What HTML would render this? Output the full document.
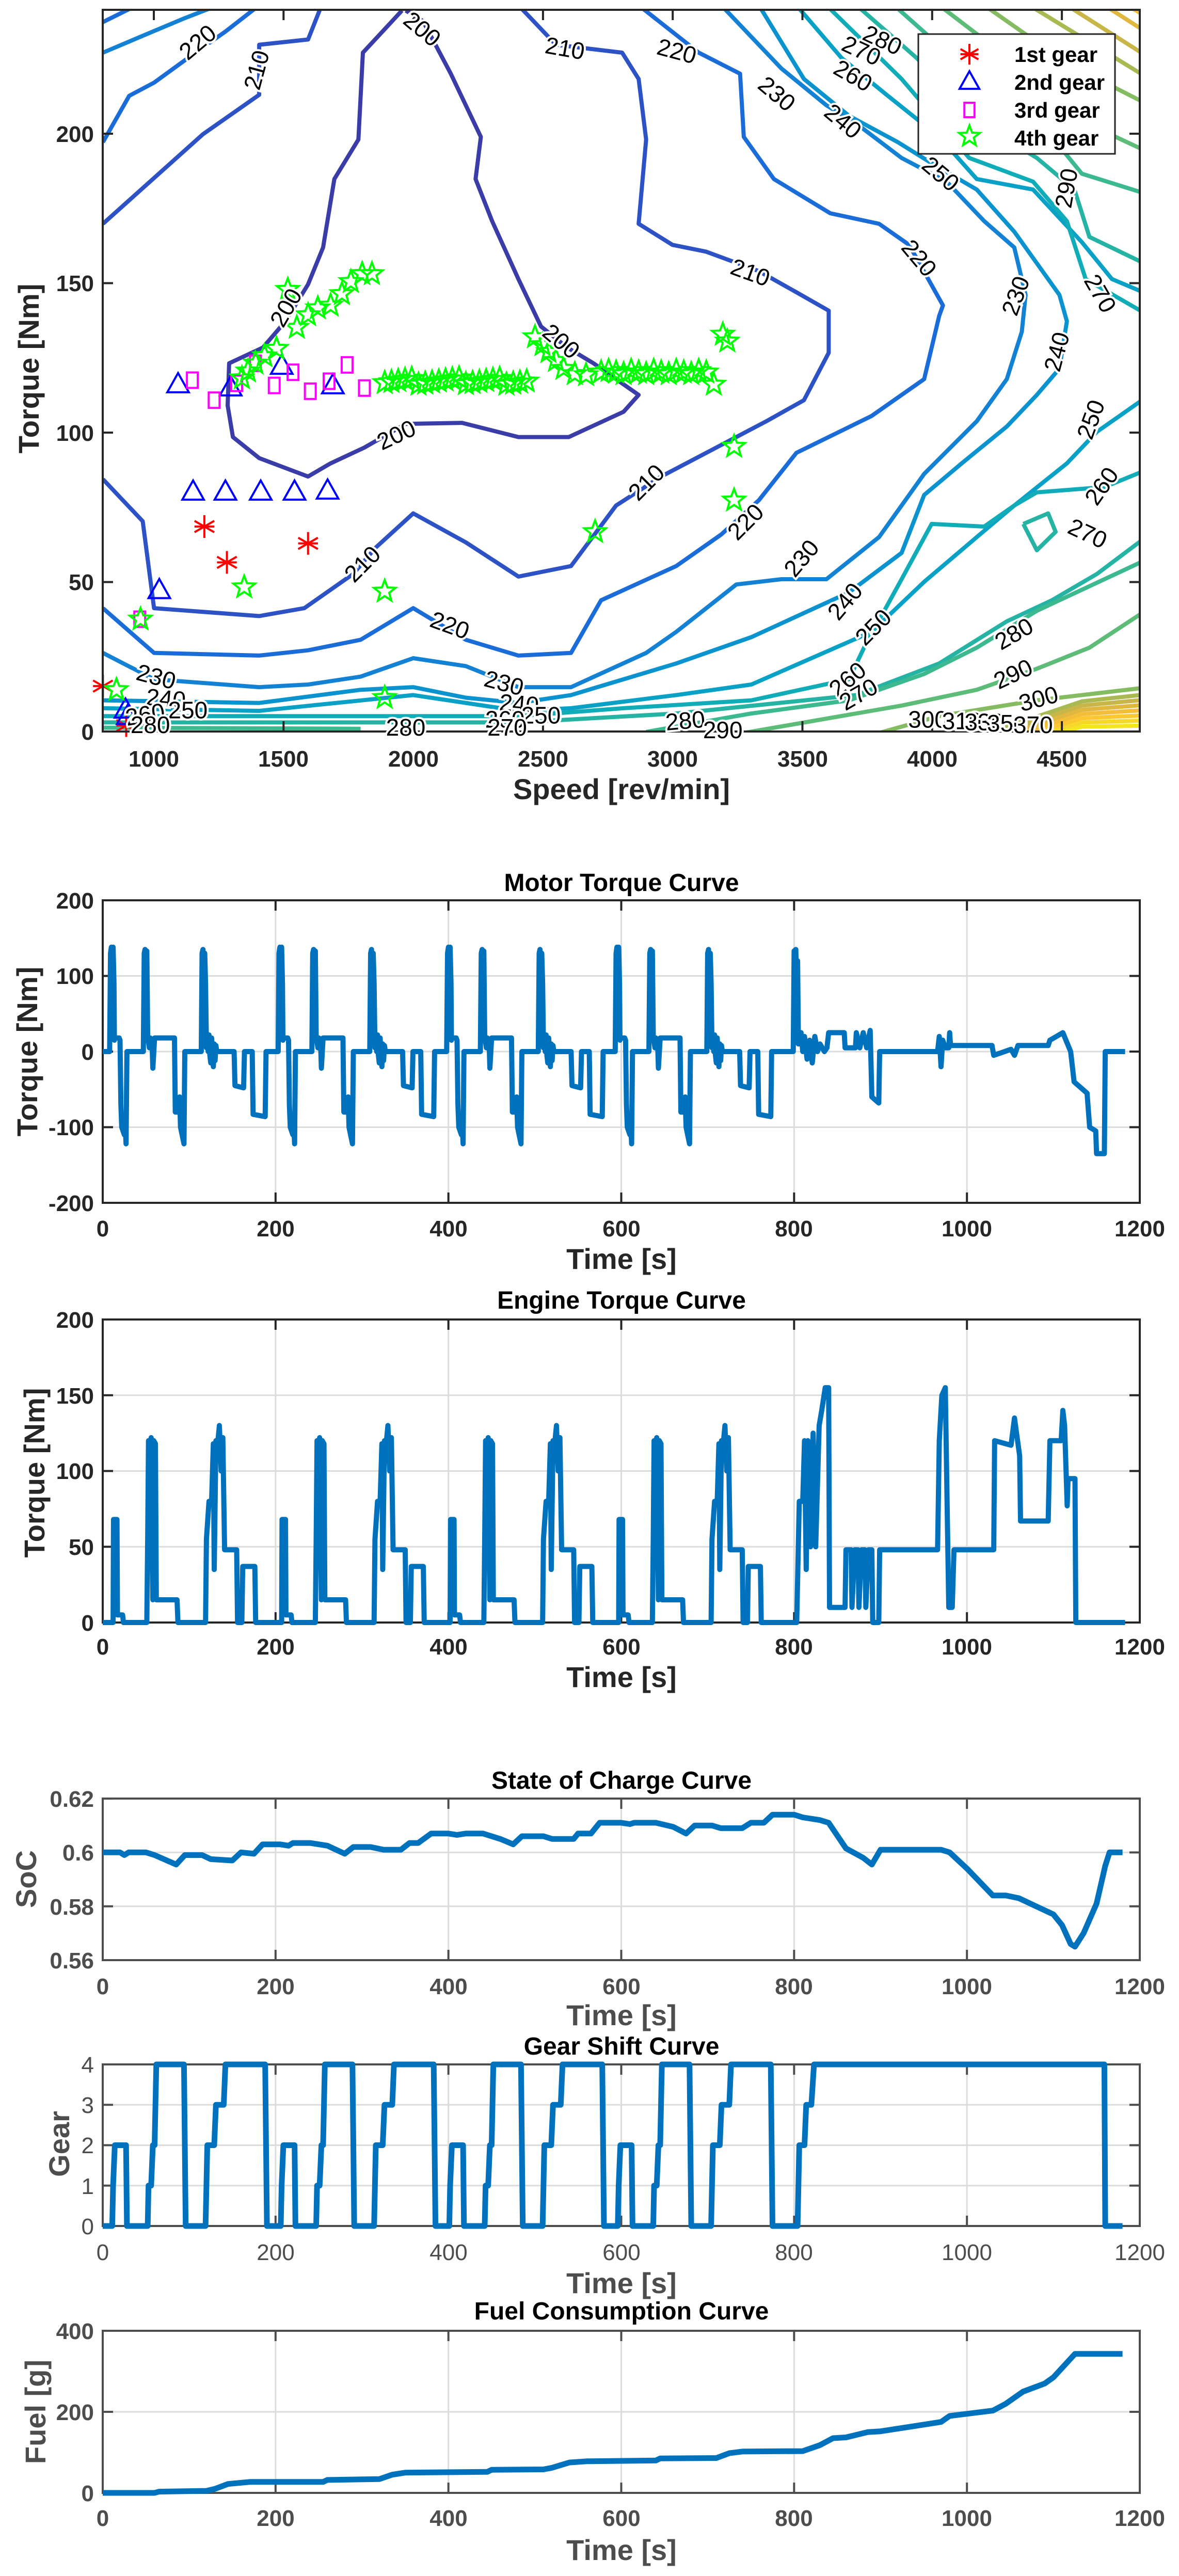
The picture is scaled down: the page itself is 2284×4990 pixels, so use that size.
<!DOCTYPE html>
<html><head><meta charset="utf-8"><style>
html,body{margin:0;padding:0;background:#fff}
svg{display:block}
text{font-family:"Liberation Sans",sans-serif}
.tk{font-size:44px;font-weight:bold;fill:#262626}
.tg{font-size:44px;fill:#4d4d4d}
.tg2{font-size:44px;font-weight:bold;fill:#4d4d4d}
.ttl{font-size:48px;font-weight:bold;fill:#000}
.lab{font-size:56px;font-weight:bold;fill:#262626}
.lab2{font-size:56px;font-weight:bold;fill:#4d4d4d}
.cl{font-size:46px;fill:#000;stroke:#fff;stroke-width:8px;paint-order:stroke}
.lg{font-size:42px;font-weight:bold;fill:#000}
</style></head><body>
<svg id="s" xmlns="http://www.w3.org/2000/svg" width="2284" height="4990" viewBox="0 0 2284 4990">
<defs><clipPath id="cp"><rect x="199" y="19" width="2009" height="1398"/></clipPath></defs>
<rect width="2284" height="4990" fill="#fff"/>
<g id="contour" clip-path="url(#cp)"></g>
<g id="marks"></g>
<g id="axes"></g>
<g id="series"></g>

<g transform="scale(1.4555,1.02)" text-anchor="middle">
<text class="cl" transform="translate(270,92) scale(0.687,0.98) rotate(-40)">220</text>
<text class="cl" transform="translate(352,137) scale(0.687,0.98) rotate(-75)">210</text>
<text class="cl" transform="translate(555,67) scale(0.687,0.98) rotate(40)">200</text>
<text class="cl" transform="translate(750,107) scale(0.687,0.98) rotate(10)">210</text>
<text class="cl" transform="translate(898,112) scale(0.687,0.98) rotate(15)">220</text>
<text class="cl" transform="translate(1170,90) scale(0.687,0.98) rotate(25)">280</text>
<text class="cl" transform="translate(1142,110) scale(0.687,0.98) rotate(25)">270</text>
<text class="cl" transform="translate(1130,157) scale(0.687,0.98) rotate(30)">260</text>
<text class="cl" transform="translate(1027,190) scale(0.687,0.98) rotate(40)">230</text>
<text class="cl" transform="translate(1115,242) scale(0.687,0.98) rotate(40)">240</text>
<text class="cl" transform="translate(1245,342) scale(0.687,0.98) rotate(40)">250</text>
<text class="cl" transform="translate(1215,500) scale(0.687,0.98) rotate(50)">220</text>
<text class="cl" transform="translate(995,532) scale(0.687,0.98) rotate(20)">210</text>
<text class="cl" transform="translate(390,592) scale(0.687,0.98) rotate(-60)">200</text>
<text class="cl" transform="translate(740,660) scale(0.687,0.98) rotate(40)">200</text>
<text class="cl" transform="translate(532,840) scale(0.687,0.98) rotate(-25)">200</text>
<text class="cl" transform="translate(1362,567) scale(0.687,0.98) rotate(-70)">230</text>
<text class="cl" transform="translate(1417,672) scale(0.687,0.98) rotate(-75)">240</text>
<text class="cl" transform="translate(1462,802) scale(0.687,0.98) rotate(-70)">250</text>
<text class="cl" transform="translate(1475,932) scale(0.687,0.98) rotate(-55)">260</text>
<text class="cl" transform="translate(1443,1027) scale(0.687,0.98) rotate(25)">270</text>
<text class="cl" transform="translate(1455,565) scale(0.687,0.98) rotate(60)">270</text>
<text class="cl" transform="translate(1430,360) scale(0.687,0.98) rotate(-80)">290</text>
<text class="cl" transform="translate(868,927) scale(0.687,0.98) rotate(-45)">210</text>
<text class="cl" transform="translate(1000,1002) scale(0.687,0.98) rotate(-45)">220</text>
<text class="cl" transform="translate(490,1082) scale(0.687,0.98) rotate(-45)">210</text>
<text class="cl" transform="translate(595,1202) scale(0.687,0.98) rotate(20)">220</text>
<text class="cl" transform="translate(1075,1070) scale(0.687,0.98) rotate(-50)">230</text>
<text class="cl" transform="translate(1133,1152) scale(0.687,0.98) rotate(-50)">240</text>
<text class="cl" transform="translate(1170,1202) scale(0.687,0.98) rotate(-45)">250</text>
<text class="cl" transform="translate(1135,1302) scale(0.687,0.98) rotate(-40)">260</text>
<text class="cl" transform="translate(1148,1332) scale(0.687,0.98) rotate(-30)">270</text>
<text class="cl" transform="translate(1355,1217) scale(0.687,0.98) rotate(-30)">280</text>
<text class="cl" transform="translate(1353,1294) scale(0.687,0.98) rotate(-25)">290</text>
<text class="cl" transform="translate(1385,1342) scale(0.687,0.98) rotate(-15)">300</text>
<text class="cl" transform="translate(205,1300) scale(0.687,0.98) rotate(15)">230</text>
<text class="cl" transform="translate(220,1342) scale(0.687,0.98) rotate(5)">240</text>
<text class="cl" transform="translate(250,1364) scale(0.687,0.98)">250</text>
<text class="cl" transform="translate(195,1372) scale(0.687,0.98) rotate(-10)">260</text>
<text class="cl" transform="translate(200,1392) scale(0.687,0.98)">280</text>
<text class="cl" transform="translate(668,1312) scale(0.687,0.98) rotate(15)">230</text>
<text class="cl" transform="translate(690,1352) scale(0.687,0.98) rotate(5)">240</text>
<text class="cl" transform="translate(720,1374) scale(0.687,0.98)">250</text>
<text class="cl" transform="translate(672,1382) scale(0.687,0.98)">260</text>
<text class="cl" transform="translate(675,1397) scale(0.687,0.98)">270</text>
<text class="cl" transform="translate(540,1397) scale(0.687,0.98)">280</text>
<text class="cl" transform="translate(913,1384) scale(0.687,0.98) rotate(-5)">280</text>
<text class="cl" transform="translate(962,1402) scale(0.687,0.98)">290</text>
<text class="cl" transform="translate(1235,1382) scale(0.687,0.98)">300</text>
<text class="cl" transform="translate(1280,1385) scale(0.687,0.98)">310</text>
<text class="cl" transform="translate(1310,1387) scale(0.687,0.98)">330</text>
<text class="cl" transform="translate(1340,1389) scale(0.687,0.98)">350</text>
<text class="cl" transform="translate(1375,1392) scale(0.687,0.98)">370</text>
</g>

<rect x="1779" y="66" width="381" height="232" fill="#fff" stroke="#262626" stroke-width="3"/>
<g id="legm"></g>
<text class="lg" x="1965" y="120">1st gear</text>
<text class="lg" x="1965" y="174">2nd gear</text>
<text class="lg" x="1965" y="228">3rd gear</text>
<text class="lg" x="1965" y="282">4th gear</text>

<g class="tk" text-anchor="end">
<text x="182" y="1433">0</text><text x="182" y="1143">50</text><text x="182" y="854">100</text><text x="182" y="564">150</text><text x="182" y="275">200</text>
</g>
<g class="tk" text-anchor="middle">
<text x="298" y="1485">1000</text><text x="549" y="1485">1500</text><text x="801" y="1485">2000</text><text x="1052" y="1485">2500</text><text x="1303" y="1485">3000</text><text x="1555" y="1485">3500</text><text x="1806" y="1485">4000</text><text x="2057" y="1485">4500</text>
</g>
<text class="lab" x="1204" y="1548" text-anchor="middle">Speed [rev/min]</text>
<text class="lab" transform="translate(75,714) rotate(-90)" text-anchor="middle">Torque [Nm]</text>

<text class="ttl" x="1204" y="1726" text-anchor="middle">Motor Torque Curve</text>
<g class="tk" text-anchor="end">
<text x="182" y="1760">200</text><text x="182" y="1906">100</text><text x="182" y="2053">0</text><text x="182" y="2199">-100</text><text x="182" y="2346">-200</text>
</g>
<g class="tk" text-anchor="middle">
<text x="199" y="2395">0</text><text x="534" y="2395">200</text><text x="869" y="2395">400</text><text x="1204" y="2395">600</text><text x="1538" y="2395">800</text><text x="1873" y="2395">1000</text><text x="2208" y="2395">1200</text>
</g>
<text class="lab" x="1204" y="2458" text-anchor="middle">Time [s]</text>
<text class="lab" transform="translate(72,2037) rotate(-90)" text-anchor="middle">Torque [Nm]</text>

<text class="ttl" x="1204" y="2535" text-anchor="middle">Engine Torque Curve</text>
<g class="tk" text-anchor="end">
<text x="182" y="2572">200</text><text x="182" y="2719">150</text><text x="182" y="2865">100</text><text x="182" y="3012">50</text><text x="182" y="3159">0</text>
</g>
<g class="tk" text-anchor="middle">
<text x="199" y="3205">0</text><text x="534" y="3205">200</text><text x="869" y="3205">400</text><text x="1204" y="3205">600</text><text x="1538" y="3205">800</text><text x="1873" y="3205">1000</text><text x="2208" y="3205">1200</text>
</g>
<text class="lab" x="1204" y="3268" text-anchor="middle">Time [s]</text>
<text class="lab" transform="translate(86,2853) rotate(-90)" text-anchor="middle">Torque [Nm]</text>

<text class="ttl" x="1204" y="3465" text-anchor="middle">State of Charge Curve</text>
<g class="tg2" text-anchor="end">
<text x="182" y="3500">0.62</text><text x="182" y="3604">0.6</text><text x="182" y="3709">0.58</text><text x="182" y="3813">0.56</text>
</g>
<g class="tg2" text-anchor="middle">
<text x="199" y="3863">0</text><text x="534" y="3863">200</text><text x="869" y="3863">400</text><text x="1204" y="3863">600</text><text x="1538" y="3863">800</text><text x="1873" y="3863">1000</text><text x="2208" y="3863">1200</text>
</g>
<text class="lab2" x="1204" y="3923" text-anchor="middle">Time [s]</text>
<text class="lab2" transform="translate(70,3640) rotate(-90)" text-anchor="middle">SoC</text>

<text class="ttl" x="1204" y="3980" text-anchor="middle">Gear Shift Curve</text>
<g class="tg" text-anchor="end">
<text x="182" y="4015">4</text><text x="182" y="4093">3</text><text x="182" y="4171">2</text><text x="182" y="4250">1</text><text x="182" y="4328">0</text>
</g>
<g class="tg" text-anchor="middle">
<text x="199" y="4378">0</text><text x="534" y="4378">200</text><text x="869" y="4378">400</text><text x="1204" y="4378">600</text><text x="1538" y="4378">800</text><text x="1873" y="4378">1000</text><text x="2208" y="4378">1200</text>
</g>
<text class="lab2" x="1204" y="4442" text-anchor="middle">Time [s]</text>
<text class="lab2" transform="translate(134,4153) rotate(-90)" text-anchor="middle">Gear</text>

<text class="ttl" x="1204" y="4493" text-anchor="middle">Fuel Consumption Curve</text>
<g class="tg2" text-anchor="end">
<text x="182" y="4531">400</text><text x="182" y="4688">200</text><text x="182" y="4845">0</text>
</g>
<g class="tg2" text-anchor="middle">
<text x="199" y="4893">0</text><text x="534" y="4893">200</text><text x="869" y="4893">400</text><text x="1204" y="4893">600</text><text x="1538" y="4893">800</text><text x="1873" y="4893">1000</text><text x="2208" y="4893">1200</text>
</g>
<text class="lab2" x="1204" y="4959" text-anchor="middle">Time [s]</text>
<text class="lab2" transform="translate(88,4672) rotate(-90)" text-anchor="middle">Fuel [g]</text>
</svg>
<script>
(function(){
var NS='http://www.w3.org/2000/svg';
function el(p,t,a){var e=document.createElementNS(NS,t);for(var k in a)e.setAttribute(k,a[k]);p.appendChild(e);return e;}
var G=function(id){return document.getElementById(id);};
var C=G('contour');
var col={200:'#3a3ca8',210:'#2c52c6',220:'#1a6dd8',230:'#1482d4',240:'#0a93cf',250:'#09a2c6',260:'#10acb8',270:'#25b4a4',280:'#3cb98e',290:'#5cbc78',300:'#85bc62',310:'#aab952',320:'#c8b748',330:'#e0b840',340:'#f4bd3a',350:'#fcc832',360:'#f6d82a',370:'#f4e61e'};
function cl(lv,p){var d='';for(var i=0;i<p.length;i+=2)d+=(i?'L':'M')+(p[i]*1.4555).toFixed(1)+' '+(p[i+1]*1.02).toFixed(1);
el(C,'path',{d:d,fill:'none',stroke:col[lv],'stroke-width':8,'stroke-linejoin':'round'});}
cl(200,[535,20,483,100,477,265,445,340,430,470,410,540,380,610,350,660,305,690,303,770,310,830,345,870,410,905,440,880,485,850,540,805,615,803,690,830,757,830,830,782,850,750,790,690,755,660,720,620,690,530,655,420,633,340,640,260,600,140,563,40,540,20]);
cl(210,[137,425,270,255,345,180,345,85,410,75,428,10]);
cl(210,[690,10,740,85,828,100,850,150,860,265,850,425,895,465,940,478,1010,515,1060,555,1103,590,1103,670,1070,760,1020,800,960,845,880,905,820,960,760,1075,690,1095,620,1030,550,975,500,1040,470,1090,405,1155,345,1170,205,1155,190,990,137,910]);
cl(220,[137,270,172,182,205,157,260,100,300,60,345,10]);
cl(220,[137,42,175,15]);
cl(230,[137,100,200,62,245,35,290,10]);
cl(220,[850,10,930,100,985,140,990,260,1030,340,1105,405,1170,425,1210,465,1255,580,1250,600,1230,720,1160,790,1060,860,1010,950,960,1015,900,1075,800,1140,760,1240,690,1245,620,1215,550,1155,480,1215,410,1235,345,1245,205,1240,137,1155]);
cl(230,[960,10,1040,130,1100,200,1140,235,1200,300,1260,345,1310,420,1350,470,1365,560,1360,630,1340,720,1300,800,1230,900,1170,1020,1100,1100,1040,1100,980,1110,900,1200,860,1240,760,1305,690,1305,620,1265,550,1250,480,1285,410,1300,345,1305,205,1290,137,1240]);
cl(240,[1010,10,1070,150,1130,220,1195,270,1240,310,1300,360,1350,440,1410,560,1420,610,1410,700,1380,750,1340,810,1280,880,1230,940,1200,1050,1130,1125,1000,1210,900,1260,760,1320,690,1335,620,1325,550,1305,480,1310,345,1335,137,1330]);
cl(250,[1060,10,1120,110,1180,180,1250,260,1300,340,1375,360,1440,460,1480,530,1530,560]);
cl(250,[1530,750,1460,820,1420,880,1350,960,1300,1020,1230,1105,1160,1200,1000,1300,900,1320,760,1345,690,1350,550,1320,345,1350,137,1345]);
cl(260,[1100,10,1200,150,1290,300,1375,345,1420,420,1445,530,1530,600]);
cl(260,[1530,890,1470,925,1380,935,1350,960,1310,1000,1240,995,1200,1100,1150,1230,1130,1290,1000,1330,830,1345,690,1360,137,1360]);
cl(270,[1140,10,1220,110,1300,230,1380,300,1430,360,1450,450,1530,505]);
cl(270,[1530,1015,1460,1090,1400,1140,1340,1180,1250,1260,1140,1320,900,1355,690,1372,137,1372]);
cl(270,[1362,995,1395,975,1405,1010,1380,1045,1362,995]);
cl(280,[1190,10,1300,150,1400,260,1440,330,1530,370]);
cl(280,[1530,1060,1440,1120,1380,1160,1300,1230,1230,1280,1130,1330,1000,1355,860,1390]);
cl(280,[137,1382,480,1384]);
cl(290,[1250,10,1360,130,1440,230,1530,290]);
cl(290,[1530,1155,1450,1230,1380,1270,1300,1310,1200,1340,990,1392]);
cl(300,[1310,10,1420,120,1530,200]);
cl(300,[1530,1305,1380,1330,1250,1360,1170,1392]);
cl(310,[1370,10,1530,150]);cl(320,[1420,10,1530,110]);cl(330,[1470,10,1530,65]);cl(340,[1500,10,1530,35]);
var lv=[310,320,330,340,350,360,370];
for(var i=0;i<lv.length;i++){cl(lv[i],[1530,1318+i*10,1440,1332+i*8,1310+i*15,1395]);}
var M=G('marks');
function T(x,y){return [x*1.4555,y*1.02];}
function ast(p,x,y,r){var g=el(p,'g',{stroke:'#ff0000','stroke-width':4});for(var a=0;a<3;a++){var t=a*Math.PI/3+Math.PI/2;el(g,'line',{x1:x-r*Math.cos(t),y1:y-r*Math.sin(t),x2:x+r*Math.cos(t),y2:y+r*Math.sin(t)});}el(g,'line',{x1:x-r*0.87,y1:y,x2:x+r*0.87,y2:y});}
function tri(p,x,y,r){el(p,'polygon',{points:(x)+','+(y-r)+' '+(x-r*0.87)+','+(y+r*0.55)+' '+(x+r*0.87)+','+(y+r*0.55),fill:'none',stroke:'#0000ff','stroke-width':4});}
function sq(p,x,y,r){el(p,'rect',{x:x-r*0.7,y:y-r,width:r*1.4,height:r*2,fill:'none',stroke:'#ff00ff','stroke-width':4});}
function star(p,x,y,r){var s='';for(var i=0;i<10;i++){var rr=i%2?r*0.42:r;var a=-Math.PI/2+i*Math.PI/5;s+=(x+rr*Math.cos(a)).toFixed(1)+','+(y+rr*Math.sin(a)).toFixed(1)+' ';}el(p,'polygon',{points:s,fill:'none',stroke:'#00ff00','stroke-width':4});}
[[137,1303],[272,1000],[302,1068],[410,1032],[192,1372],[168,1378]].forEach(function(q){var t=T(q[0],q[1]);ast(M,t[0],t[1],22);});
[[237,732],[307,738],[375,697],[443,734],[257,936],[300,936],[347,936],[392,936],[436,934],[212,1123],[167,1350],[170,1362]].forEach(function(q){var t=T(q[0],q[1]);tri(M,t[0],t[1],24);});
[[256,722],[285,760],[315,728],[340,690],[365,732],[390,707],[413,743],[438,724],[462,693],[485,737],[186,1176]].forEach(function(q){var t=T(q[0],q[1]);sq(M,t[0],t[1],15);});
var st=[[155,1310],[187,1176],[325,1115],[512,1123],[512,1325],[792,1010],[977,848],[977,950],[962,635],[968,648],[322,718],[330,705],[340,690],[352,676],[368,662],[383,550],[395,622],[410,598],[423,585],[440,580],[455,558],[467,535],[482,520],[495,520],[712,640],[722,655],[730,668],[740,685],[750,700],[765,710],[780,712],[800,707],[950,730]];
for(var x=512;x<=705;x+=9){st.push([x,718+((x*7)%13)]);}
for(var x=810;x<=940;x+=10){st.push([x,704+((x*3)%9)]);}
st.forEach(function(q){var t=T(q[0],q[1]);star(M,t[0],t[1],22);});
var L=G('legm');ast(L,1878,105,20);tri(L,1878,160,22);sq(L,1878,213,14);star(L,1878,264,21);
var A=G('axes');
function box(x0,y0,x1,y1,c,gx,gy){
 if(gx){gx.forEach(function(x){el(A,'line',{x1:x,y1:y0,x2:x,y2:y1,stroke:'#dcdcdc','stroke-width':3});});}
 if(gy){gy.forEach(function(y){el(A,'line',{x1:x0,y1:y,x2:x1,y2:y,stroke:'#dcdcdc','stroke-width':3});});}
 return function(tx,ty){
  tx.forEach(function(x){el(A,'line',{x1:x,y1:y1,x2:x,y2:y1-20,stroke:c,'stroke-width':4});el(A,'line',{x1:x,y1:y0,x2:x,y2:y0+20,stroke:c,'stroke-width':4});});
  ty.forEach(function(y){el(A,'line',{x1:x0,y1:y,x2:x0+20,y2:y,stroke:c,'stroke-width':4});el(A,'line',{x1:x1,y1:y,x2:x1-20,y2:y,stroke:c,'stroke-width':4});});
  el(A,'rect',{x:x0,y:y0,width:x1-x0,height:y1-y0,fill:'none',stroke:c,'stroke-width':4});
 };
}
var tx=[];for(var t=0;t<=1200;t+=200)tx.push(199+t*1.6742);
var cx=[];for(var r=1000;r<=4500;r+=500)cx.push(298+(r-1000)*0.5026);
var cy=[];for(var v=0;v<=200;v+=50)cy.push(1417-v*5.79);
var cFin=box(199,19,2208,1417,'#262626',null,null);
var my=[];for(var v=-200;v<=200;v+=100)my.push(2037-v*1.465);
var motorFin=box(199,1744,2208,2330,'#262626',tx,my);
var ey=[];for(var v=0;v<=200;v+=50)ey.push(3143-v*2.935);
var engFin=box(199,2556,2208,3143,'#262626',tx,ey);
var sy=[];for(var v=0;v<4;v++)sy.push(3797-v*104.3);
var socFin=box(199,3484,2208,3797,'#4d4d4d',tx,sy);
var gy=[];for(var v=0;v<=4;v++)gy.push(4312-v*78.25);
var gearFin=box(199,3999,2208,4312,'#4d4d4d',tx,gy);
var fy=[4829,4672,4515];
var fuelFin=box(199,4515,2208,4829,'#4d4d4d',tx,fy);
var S=G('series');
function X(t){return 199+t*1.6742;}
function line(pts,Y,w){var d='';pts.forEach(function(p,i){d+=(i?'L':'M')+X(p[0]).toFixed(1)+' '+Y(p[1]).toFixed(1);});el(S,'path',{d:d,fill:'none',stroke:'#0072bd','stroke-width':w||10,'stroke-linejoin':'round'});}
function cyc(pat,n,per,tail){var out=[];for(var c=0;c<n;c++){pat.forEach(function(p){out.push([p[0]+c*per,p[1]]);});}return out.concat(tail);}
var mp=[[0,0],[8,0],[9,130],[10,138],[11,100],[12,138],[13,90],[13.5,15],[14,18],[19,18],[20,15],[21,-70],[22,-100],[25,-110],[26,-95],[27,-122],[28,0],[47,0],[48,130],[49,135],[50,90],[51,133],[52,20],[54,5],[55,18],[57,15],[58,-22],[60,18],[83,18],[84,-80],[88,-80],[89,-60],[90,-100],[94,-122],[95,0],[114,0],[115,130],[116,135],[117,60],[118,130],[119,90],[120,5],[121,22],[122,0],[123,22],[124,-5],[125,-15],[126,18],[127,0],[128,-20],[129,10],[130,-12],[131,8],[132,0],[152,0],[153,-45],[163,-48],[164,0],[173,0],[174,-83],[188,-86],[189,0],[195,0]];
var mt=[[780,0],[799,0],[800,133],[802,135],[803,60],[804,120],[805,10],[808,25],[810,0],[812,20],[815,-10],[818,15],[821,-15],[824,20],[827,0],[830,10],[835,0],[838,5],[840,25],[858,25],[859,5],[871,5],[872,25],[876,5],[880,25],[884,5],[888,28],[890,-60],[898,-68],[899,0],[966,0],[968,20],[970,-20],[972,15],[975,5],[979,5],[980,25],[981,8],[1029,8],[1031,-5],[1051,3],[1055,-5],[1059,8],[1094,8],[1096,15],[1111,25],[1120,0],[1124,-40],[1139,-55],[1142,-100],[1149,-105],[1150,-135],[1159,-135],[1160,0],[1183,0]];
line(cyc(mp,4,195,mt),function(v){return 2037-v*1.465;});
var ep=[[0,0],[12,0],[12.5,68],[16.5,68],[17,5],[23,5],[24,0],[51,0],[52,55],[53,120],[55,60],[56,122],[58,15],[59,120],[61,118],[62,15],[86,15],[87,0],[119,0],[120,55],[123,80],[126,80],[128,118],[129,35],[131,120],[133,118],[135,130],[137,100],[139,122],[141,48],[155,48],[156,0],[161,0],[162,37],[176,37],[177,0],[195,0]];
var et=[[780,0],[803,0],[806,80],[810,80],[812,120],[814,35],[816,120],[819,50],[822,125],[825,50],[829,130],[832,140],[836,155],[840,155],[841,10],[859,10],[860,48],[866,48],[867,10],[870,48],[874,48],[875,10],[878,48],[882,48],[883,10],[886,48],[890,48],[891,0],[898,0],[899,48],[966,48],[968,120],[971,150],[975,155],[977,80],[979,10],[983,10],[985,48],[1031,48],[1032,120],[1051,117],[1055,135],[1061,110],[1062,67],[1094,67],[1096,120],[1109,120],[1111,140],[1113,130],[1116,77],[1117,95],[1125,95],[1126,0],[1183,0]];
line(cyc(ep,4,195,et),function(v){return 3143-v*2.935;});
var soc=[[0,.600],[20,.600],[25,.599],[30,.600],[50,.600],[60,.599],[85,.5955],[95,.599],[115,.599],[125,.5975],[150,.597],[160,.600],[175,.5995],[185,.603],[205,.603],[215,.6025],[220,.6035],[240,.6035],[260,.6025],[280,.5995],[290,.602],[310,.602],[325,.601],[345,.601],[355,.6035],[365,.6035],[380,.607],[400,.607],[410,.6065],[420,.607],[440,.607],[460,.605],[475,.603],[485,.606],[510,.606],[520,.605],[545,.605],[550,.607],[565,.607],[575,.611],[600,.611],[610,.6105],[615,.611],[640,.611],[660,.6095],[675,.607],[685,.610],[705,.610],[715,.609],[740,.609],[750,.611],[765,.611],[775,.614],[800,.614],[810,.613],[830,.612],[840,.611],[860,.6015],[880,.598],[890,.5955],[900,.601],[970,.601],[980,.600],[1000,.594],[1030,.584],[1045,.584],[1060,.583],[1080,.580],[1100,.577],[1110,.573],[1120,.566],[1125,.565],[1135,.570],[1150,.581],[1160,.595],[1165,.600],[1180,.600]];
line(soc,function(v){return 3797-(v-.56)*5217;},11);
var gp=[[0,0],[11,0],[12,1],[14,2],[27,2],[28,0],[52,0],[53,1],[56,1],[58,2],[60,2],[62,4],[94,4],[96,0],[119,0],[121,2],[129,2],[131,3],[140,3],[142,4],[188,4],[190,0],[195,0]];
var gt=[[780,0],[804,0],[806,2],[812,2],[814,3],[820,3],[823,4],[1159,4],[1160,0],[1180,0]];
line(cyc(gp,4,195,gt),function(v){return 4312-v*78.25;},11);
var fu=[[0,0],[60,0],[65,3],[120,5],[130,10],[145,22],[170,27],[255,27],[260,32],[320,34],[335,45],[350,50],[445,52],[450,57],[510,58],[520,62],[540,75],[560,78],[640,80],[645,85],[710,86],[725,98],[740,102],[810,103],[830,118],[845,135],[860,137],[885,150],[900,152],[970,175],[980,190],[1030,203],[1045,220],[1065,250],[1090,270],[1100,285],[1125,343],[1180,343]];
line(fu,function(v){return 4829-v*0.785;},11);
cFin(cx,cy);
motorFin(tx,my);engFin(tx,ey);socFin(tx,sy);gearFin(tx,gy);fuelFin(tx,fy);
})();
</script>
</body></html>
